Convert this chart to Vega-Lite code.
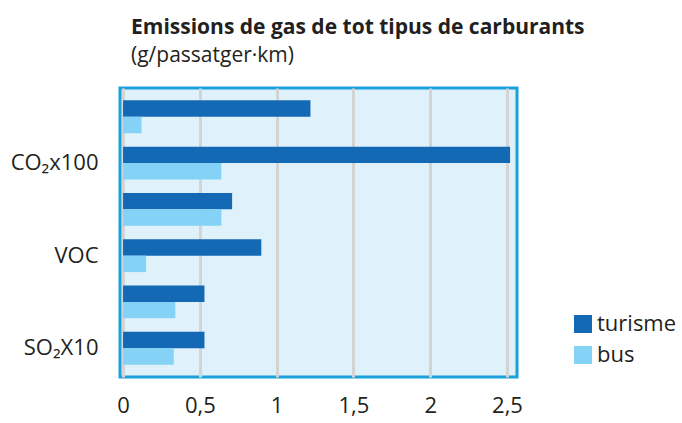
{
  "$schema": "https://vega.github.io/schema/vega-lite/v6.json",
  "autosize": {"type": "none"},
  "width": 397,
  "height": 289,
  "padding": {"left": 120, "top": 88, "right": 165, "bottom": 46},
  "background": "white",
  "config": {
    "font": "Open Sans",
    "view": {"fill": "#dff1fa", "stroke": "#1aa0dc", "strokeWidth": 3}
  },
  "title": {
    "text": "Emissions de gas de tot tipus de carburants",
    "subtitle": "(g/passatger·km)",
    "anchor": "start",
    "frame": "group",
    "dx": 11,
    "offset": 22,
    "font": "Open Sans",
    "fontSize": 21,
    "fontWeight": "bold",
    "color": "#231f20",
    "subtitleFont": "Open Sans",
    "subtitleFontSize": 21,
    "subtitleColor": "#231f20",
    "subtitlePadding": 7
  },
  "data": {
    "values": [
      {"cat": "g1", "serie": "turisme", "value": 1.22},
      {"cat": "g1", "serie": "bus", "value": 0.12},
      {"cat": "CO₂x100", "serie": "turisme", "value": 2.52},
      {"cat": "CO₂x100", "serie": "bus", "value": 0.64},
      {"cat": "g3", "serie": "turisme", "value": 0.71},
      {"cat": "g3", "serie": "bus", "value": 0.64},
      {"cat": "VOC", "serie": "turisme", "value": 0.90},
      {"cat": "VOC", "serie": "bus", "value": 0.15},
      {"cat": "g5", "serie": "turisme", "value": 0.53},
      {"cat": "g5", "serie": "bus", "value": 0.34},
      {"cat": "SO₂X10", "serie": "turisme", "value": 0.53},
      {"cat": "SO₂X10", "serie": "bus", "value": 0.33}
    ]
  },
  "mark": {"type": "bar", "clip": false},
  "encoding": {
    "y": {
      "field": "cat",
      "type": "nominal",
      "sort": ["g1", "CO₂x100", "g3", "VOC", "g5", "SO₂X10"],
      "scale": {"paddingInner": 0.29, "paddingOuter": 0.267},
      "axis": {
        "title": null,
        "values": ["CO₂x100", "VOC", "SO₂X10"],
        "ticks": false,
        "domain": false,
        "labelFont": "Open Sans",
        "labelFontSize": 22,
        "labelColor": "#231f20",
        "labelPadding": 22
      }
    },
    "yOffset": {
      "field": "serie",
      "type": "nominal",
      "sort": ["turisme", "bus"],
      "scale": {"paddingInner": 0, "paddingOuter": 0}
    },
    "x": {
      "field": "value",
      "type": "quantitative",
      "scale": {"domain": [-0.02, 2.565], "nice": false, "zero": false},
      "axis": {
        "title": null,
        "values": [0, 0.5, 1, 1.5, 2, 2.5],
        "format": "~g",
        "labelExpr": "replace(datum.label, '.', ',')",
        "ticks": false,
        "domain": false,
        "grid": true,
        "gridColor": "#d4d4d4",
        "gridWidth": 3,
        "labelFont": "Open Sans",
        "labelFontSize": 22,
        "labelColor": "#231f20",
        "labelPadding": 18
      }
    },
    "x2": {"datum": 0},
    "color": {
      "field": "serie",
      "type": "nominal",
      "scale": {"domain": ["turisme", "bus"], "range": ["#1469b4", "#84d3f6"]},
      "legend": {
        "title": null,
        "orient": "none",
        "legendX": 452,
        "legendY": 225,
        "symbolType": "square",
        "symbolSize": 324,
        "symbolStrokeWidth": 0,
        "symbolOpacity": 1,
        "labelFont": "Open Sans",
        "labelFontSize": 22,
        "labelColor": "#231f20",
        "rowPadding": 9,
        "labelOffset": 3
      }
    }
  }
}
